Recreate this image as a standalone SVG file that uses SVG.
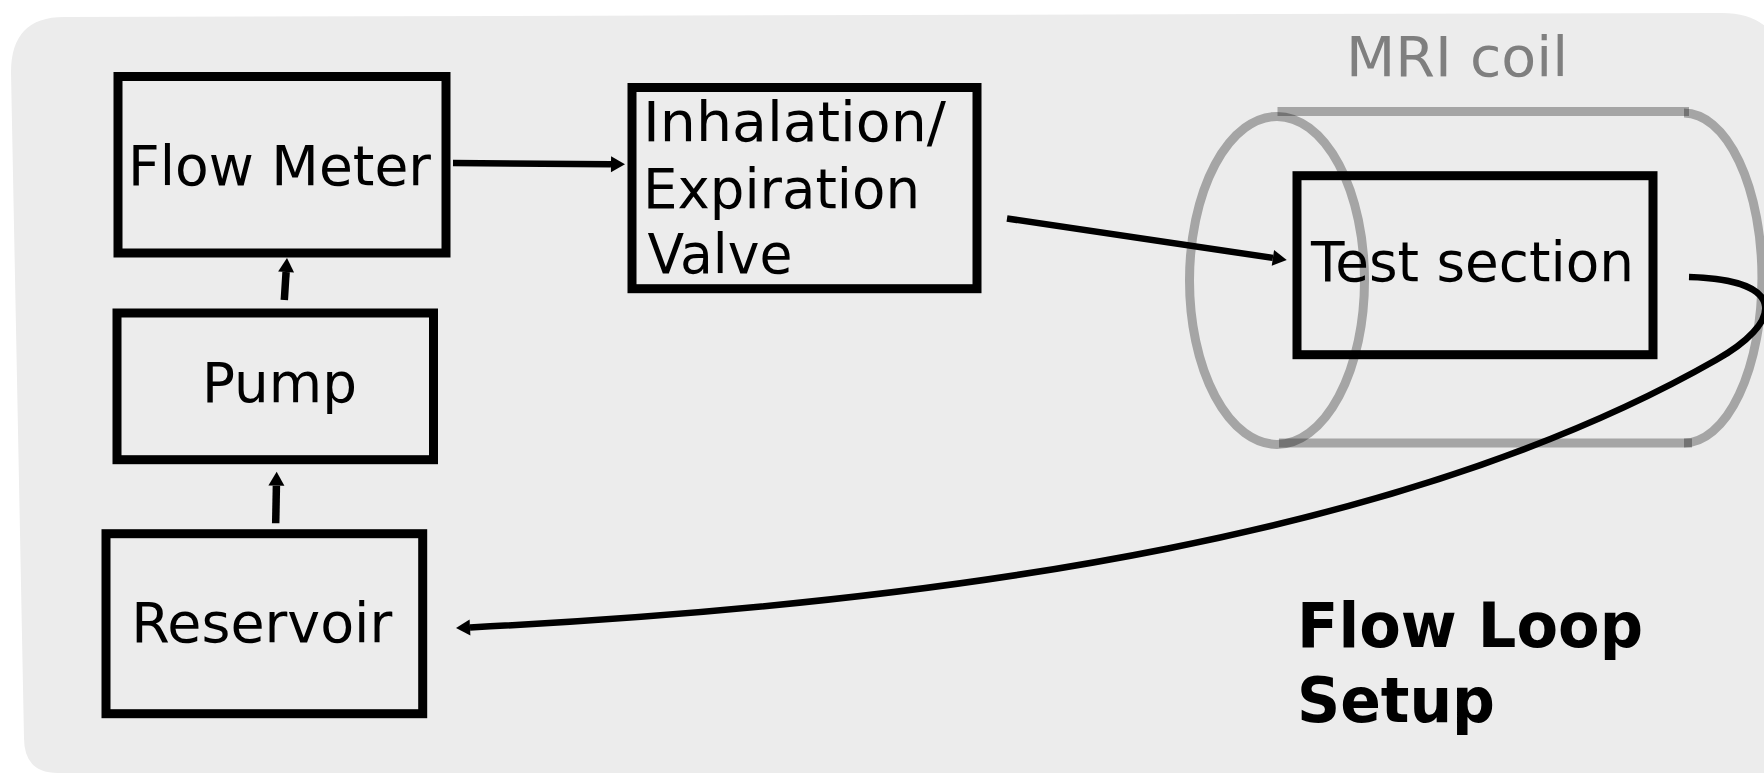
<svg xmlns="http://www.w3.org/2000/svg" width="1764" height="775" viewBox="0 0 1764 775">
  <style>
    .box { fill: none; stroke: #000; stroke-width: 9; }
    .lbl { font-family: "DejaVu Sans", "Liberation Sans", sans-serif; font-size: 55px; fill: #000; }
    .coil { fill: none; stroke: #000; stroke-opacity: 0.3; stroke-width: 9; }
    .conn { fill: none; stroke: #000; stroke-width: 6.5; }
    .title { font-family: "DejaVu Sans", "Liberation Sans", sans-serif; font-size: 62px; font-weight: bold; fill: #000; }
  </style>
  <defs>
    <marker id="head" markerUnits="userSpaceOnUse" markerWidth="20" markerHeight="20" refX="0" refY="8" orient="auto" overflow="visible">
      <path d="M0,0 L14,8 L0,16 Z" fill="#000"/>
    </marker>
  </defs>

  <rect width="1764" height="775" fill="#fff"/>
  <!-- panel background -->
  <path d="M11,72 Q11,17 64,17 L1722,13 Q1764,13 1780,45 L1780,773 L58,773 Q24,773 24,738 Z" fill="#ececec"/>

  <!-- MRI coil drawn as a translucent cylinder -->
  <g id="mri-coil">
    <text class="lbl" x="1346" y="76" style="font-size:56px;fill:#7f7f7f" textLength="222" lengthAdjust="spacingAndGlyphs">MRI coil</text>
    <ellipse class="coil" cx="1277" cy="280.4" rx="87.5" ry="164"/>
    <path class="coil" d="M1277.5,111.5 H1689"/>
    <path class="coil" d="M1279,443 H1692"/>
    <path class="coil" d="M1684,113 A78,165 0 0 1 1684,443"/>
  </g>

  <g id="flow-meter">
    <rect class="box" x="118" y="76.5" width="328" height="176.5"/>
    <text class="lbl" x="128" y="185" textLength="303" lengthAdjust="spacingAndGlyphs">Flow Meter</text>
  </g>

  <g id="pump">
    <rect class="box" x="117" y="313" width="316.5" height="146.7"/>
    <text class="lbl" x="202" y="402.3" textLength="155" lengthAdjust="spacingAndGlyphs">Pump</text>
  </g>

  <g id="reservoir">
    <rect class="box" x="106" y="533.7" width="316.7" height="180"/>
    <text class="lbl" x="131.3" y="641.7" textLength="261" lengthAdjust="spacingAndGlyphs">Reservoir</text>
  </g>

  <g id="valve">
    <rect class="box" x="632" y="87.5" width="345" height="201.2"/>
    <text class="lbl" style="font-size:56px" x="643" y="140.7" textLength="303" lengthAdjust="spacingAndGlyphs">Inhalation/</text>
    <text class="lbl" style="font-size:56px" x="643" y="208.3" textLength="277" lengthAdjust="spacingAndGlyphs">Expiration</text>
    <text class="lbl" style="font-size:56px" x="647.5" y="273.3" textLength="145" lengthAdjust="spacingAndGlyphs">Valve</text>
  </g>

  <g id="test-section">
    <rect class="box" x="1297" y="175.7" width="356" height="179"/>
    <text class="lbl" x="1311" y="280.7" textLength="323" lengthAdjust="spacingAndGlyphs">Test section</text>
  </g>

  <g id="caption">
    <text class="title" x="1297" y="647.3" textLength="346" lengthAdjust="spacingAndGlyphs">Flow Loop</text>
    <text class="title" x="1297" y="722.3" textLength="198" lengthAdjust="spacingAndGlyphs">Setup</text>
  </g>

  <g id="connectors">
    <path class="conn" d="M453,163 L611,164.2" marker-end="url(#head)"/>
    <path class="conn" style="stroke-width:7.5" d="M284.3,300 L286.1,272" marker-end="url(#head)"/>
    <path class="conn" style="stroke-width:7.5" d="M275.7,523.3 L276.4,485.7" marker-end="url(#head)"/>
    <path class="conn" d="M1007,218.5 L1272.9,257.9" marker-end="url(#head)"/>
    <path class="conn" d="M1689,277 C1792,280 1780,324 1716,360 C1416,531 970,602.4 470,627.4" marker-end="url(#head)"/>
  </g>
</svg>
